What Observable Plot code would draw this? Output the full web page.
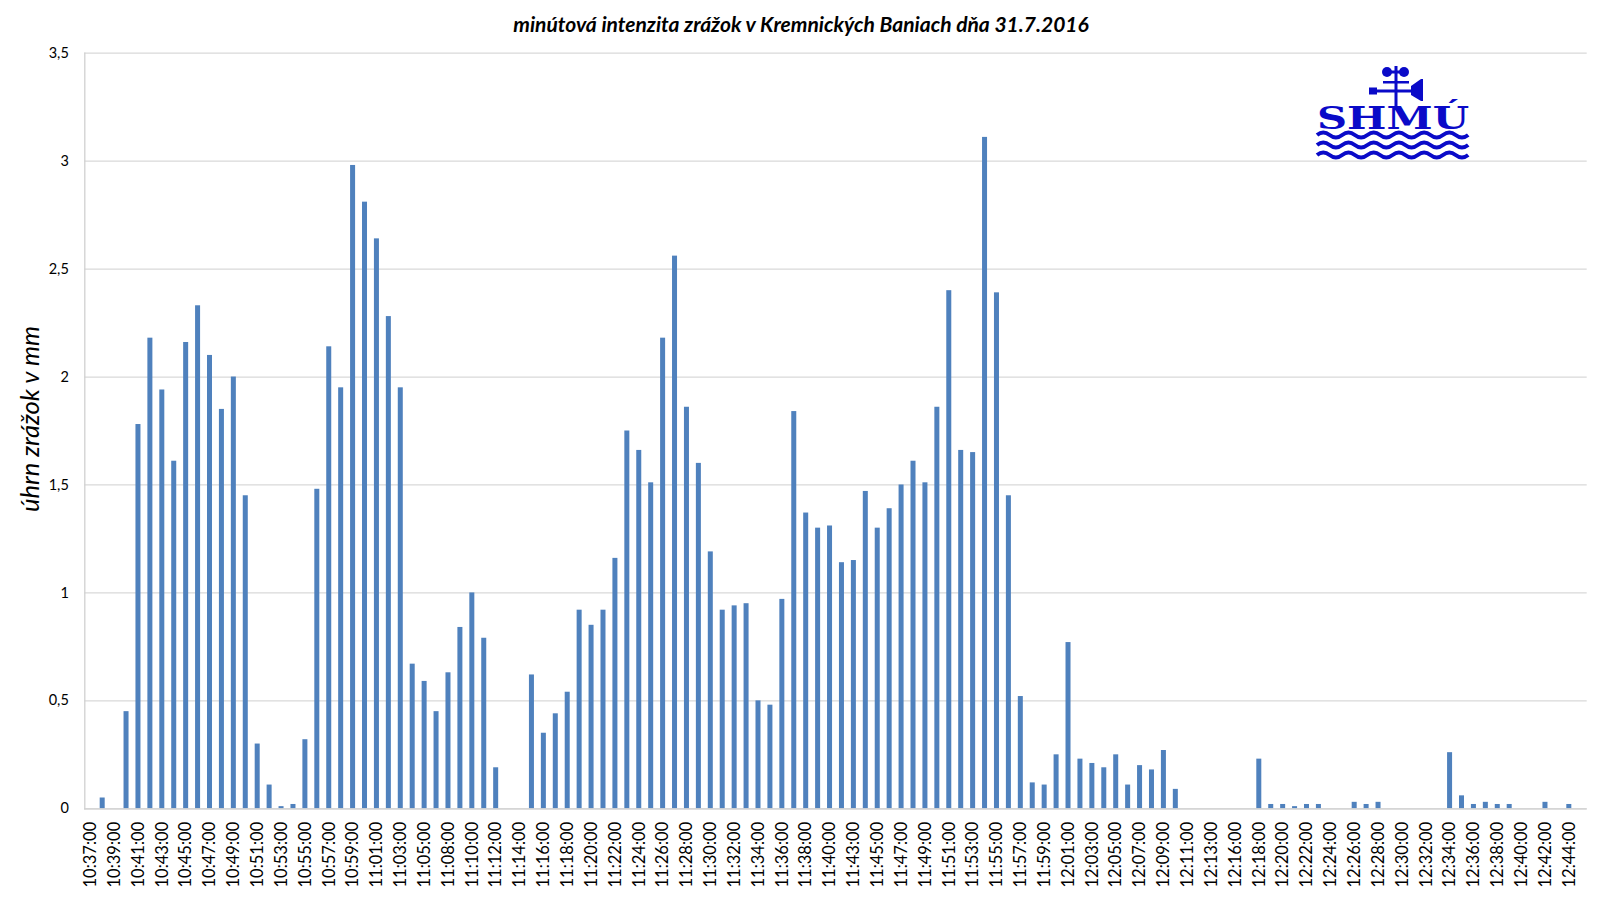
<!DOCTYPE html>
<html>
<head>
<meta charset="utf-8">
<script src="https://cdn.jsdelivr.net/npm/d3@7"></script>
<script src="https://cdn.jsdelivr.net/npm/@observablehq/plot@0.6"></script>
<style>
  html, body { margin: 0; padding: 0; background: #fff; }
  #wrap { position: relative; width: 1600px; height: 897px; overflow: hidden; }
  #logo { position: absolute; left: 1310px; top: 62px; }
</style>
</head>
<body>
<div id="wrap"></div>
<script>
const title = "minútová intenzita zrážok v Kremnických Baniach dňa 31.7.2016";
const yLabel = "úhrn zrážok v mm";

const labels = [
  "10:37:00","10:38:00","10:39:00","10:40:00","10:41:00","10:42:00","10:43:00","10:44:00","10:45:00","10:46:00",
  "10:47:00","10:48:00","10:49:00","10:50:00","10:51:00","10:52:00","10:53:00","10:54:00","10:55:00","10:56:00",
  "10:57:00","10:58:00","10:59:00","11:00:00","11:01:00","11:02:00","11:03:00","11:04:00","11:05:00","11:06:00",
  "11:08:00","11:09:00","11:10:00","11:11:00","11:12:00","11:13:00","11:14:00","11:15:00","11:16:00","11:17:00",
  "11:18:00","11:19:00","11:20:00","11:21:00","11:22:00","11:23:00","11:24:00","11:25:00","11:26:00","11:27:00",
  "11:28:00","11:29:00","11:30:00","11:31:00","11:32:00","11:33:00","11:34:00","11:35:00","11:36:00","11:37:00",
  "11:38:00","11:39:00","11:40:00","11:41:00","11:43:00","11:44:00","11:45:00","11:46:00","11:47:00","11:48:00",
  "11:49:00","11:50:00","11:51:00","11:52:00","11:53:00","11:54:00","11:55:00","11:56:00","11:57:00","11:58:00",
  "11:59:00","12:00:00","12:01:00","12:02:00","12:03:00","12:04:00","12:05:00","12:06:00","12:07:00","12:08:00",
  "12:09:00","12:10:00","12:11:00","12:12:00","12:13:00","12:14:00","12:16:00","12:17:00","12:18:00","12:19:00",
  "12:20:00","12:21:00","12:22:00","12:23:00","12:24:00","12:25:00","12:26:00","12:27:00","12:28:00","12:29:00",
  "12:30:00","12:31:00","12:32:00","12:33:00","12:34:00","12:35:00","12:36:00","12:37:00","12:38:00","12:39:00",
  "12:40:00","12:41:00","12:42:00","12:43:00","12:44:00","12:45:00"
];

const values = [
  0, 0.05, 0, 0.45, 1.78, 2.18, 1.94, 1.61, 2.16, 2.33,
  2.10, 1.85, 2.00, 1.45, 0.30, 0.11, 0.01, 0.02, 0.32, 1.48,
  2.14, 1.95, 2.98, 2.81, 2.64, 2.28, 1.95, 0.67, 0.59, 0.45,
  0.63, 0.84, 1.00, 0.79, 0.19, 0, 0, 0.62, 0.35, 0.44,
  0.54, 0.92, 0.85, 0.92, 1.16, 1.75, 1.66, 1.51, 2.18, 2.56,
  1.86, 1.60, 1.19, 0.92, 0.94, 0.95, 0.50, 0.48, 0.97, 1.84,
  1.37, 1.30, 1.31, 1.14, 1.15, 1.47, 1.30, 1.39, 1.50, 1.61,
  1.51, 1.86, 2.40, 1.66, 1.65, 3.11, 2.39, 1.45, 0.52, 0.12,
  0.11, 0.25, 0.77, 0.23, 0.21, 0.19, 0.25, 0.11, 0.20, 0.18,
  0.27, 0.09, 0, 0, 0, 0, 0, 0, 0.23, 0.02,
  0.02, 0.01, 0.02, 0.02, 0, 0, 0.03, 0.02, 0.03, 0,
  0, 0, 0, 0, 0.26, 0.06, 0.02, 0.03, 0.02, 0.02,
  0, 0, 0.03, 0, 0.02, 0
];

const yTicks = [0, 0.5, 1, 1.5, 2, 2.5, 3, 3.5];
const xTickLabels = labels.filter((d, i) => i % 2 === 0);

const data = labels.map((t, i) => ({t, v: values[i]}));

const chart = Plot.plot({
  width: 1600,
  height: 897,
  marginTop: 52.7,
  marginBottom: 88.7,
  marginLeft: 84.3,
  marginRight: 13.3,
  style: {fontFamily: "Lato, Carlito, 'Open Sans', sans-serif", fontSize: "14px", color: "#000", background: "#fff"},
  x: {type: "band", domain: labels, paddingInner: 0.58, paddingOuter: 0.29, label: null},
  y: {domain: [0, 3.5], label: null},
  marks: [
    Plot.gridY(yTicks, {stroke: "#d9d9d9", strokeOpacity: 1, strokeWidth: 1.3}),
    Plot.barY(data, {x: "t", y: "v", fill: "#4f81bd"}),
    Plot.ruleY([0], {stroke: "#d0d0d0", strokeWidth: 1.3}),
    Plot.frame({anchor: "left", stroke: "#d0d0d0", strokeWidth: 1.3}),
    Plot.axisY(yTicks, {tickSize: 0, tickPadding: 16, fontSize: 14.5, tickFormat: d => String(d).replace(".", ","), label: null}),
    Plot.axisX(xTickLabels, {tickSize: 0, tickRotate: -90, tickPadding: 13, fontSize: 16.5, label: null}),
    Plot.text([title], {text: d => d, frameAnchor: "top", textAnchor: "middle", dx: -35, dy: -36, fontSize: 21, fontWeight: "bold", fontStyle: "italic"}),
    Plot.text([yLabel], {text: d => d, frameAnchor: "left", textAnchor: "middle", rotate: -90, dx: -54, dy: -12, fontSize: 25.5, fontStyle: "italic"})
  ]
});

const wrap = document.getElementById("wrap");
wrap.appendChild(chart);

// SHMÚ logo (decorative)
const logo = document.createElement("div");
logo.id = "logo";
logo.innerHTML = `
<svg width="170" height="105" viewBox="0 0 170 105" xmlns="http://www.w3.org/2000/svg">
  <g fill="#0a0ac8" stroke="none">
    <circle cx="77" cy="10" r="5"/>
    <circle cx="94" cy="10" r="5"/>
    <rect x="77" y="8.5" width="17" height="3"/>
    <rect x="84.5" y="4" width="3" height="40"/>
    <rect x="73" y="19" width="26" height="2.5"/>
    <rect x="59" y="27.5" width="44" height="3"/>
    <rect x="59" y="25.5" width="8" height="7"/>
    <path d="M101,24 L111,17 L113,17 L113,39 L111,39 L101,33 Z"/>
  </g>
  <text x="7" y="67" font-family="'DejaVu Serif', serif" font-weight="bold" font-size="31" fill="#0a0ac8" textLength="152" lengthAdjust="spacingAndGlyphs">SHMÚ</text>
  <g fill="none" stroke="#0a0ac8" stroke-width="4">
    <path d="M7,73 q6.3,-5 12.6,0 t12.6,0 t12.6,0 t12.6,0 t12.6,0 t12.6,0 t12.6,0 t12.6,0 t12.6,0 t12.6,0 t12.6,0 t12.6,0"/>
    <path d="M7,83 q6.3,-5 12.6,0 t12.6,0 t12.6,0 t12.6,0 t12.6,0 t12.6,0 t12.6,0 t12.6,0 t12.6,0 t12.6,0 t12.6,0 t12.6,0"/>
    <path d="M7,93 q6.3,-5 12.6,0 t12.6,0 t12.6,0 t12.6,0 t12.6,0 t12.6,0 t12.6,0 t12.6,0 t12.6,0 t12.6,0 t12.6,0 t12.6,0"/>
  </g>
</svg>`;
wrap.appendChild(logo);
</script>
</body>
</html>
